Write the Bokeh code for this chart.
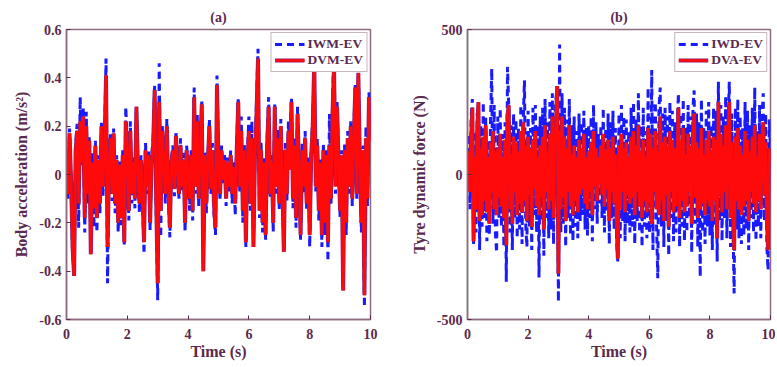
import numpy as np
from bokeh.plotting import figure
from bokeh.layouts import row
from bokeh.models import FixedTicker, Legend, LegendItem, Range1d
from bokeh.embed import file_html
from bokeh.resources import INLINE

# ---------------- data ----------------
# panel (a): body acceleration, sampled every 0.05 s
t_a = np.round(np.arange(201) * 0.05, 2)
dvm_ev = [
    0.05, -0.08, 0.17, -0.02, -0.30, -0.42, 0.10, 0.18, -0.12, 0.22,
    0.05, 0.24, -0.18, 0.20, -0.08, 0.14, -0.33, 0.05, -0.14, 0.12,
    -0.18, 0.06, -0.12, 0.20, -0.05, 0.10, 0.41, -0.30, 0.02, 0.15,
    -0.08, 0.17, -0.12, 0.06, -0.20, 0.04, -0.18, 0.08, -0.28, 0.22,
    0.10, -0.15, 0.18, -0.08, 0.05, -0.10, 0.28, 0.02, -0.12, 0.06,
    -0.08, -0.28, 0.10, -0.05, 0.08, -0.20, 0.05, 0.12, 0.35, -0.10,
    -0.45, 0.30, -0.15, 0.18, 0.05, -0.08, 0.20, -0.05, -0.22, 0.04,
    0.10, -0.06, 0.16, 0.02, -0.08, 0.12, -0.05, 0.06, -0.20, 0.10,
    0.02, -0.10, 0.08, -0.15, 0.32, -0.05, 0.22, -0.10, 0.10, 0.29,
    -0.40, 0.08, -0.12, 0.05, 0.20, -0.06, 0.10, -0.12, -0.22, 0.37,
    0.05, -0.08, 0.10, -0.02, 0.06, -0.10, 0.05, -0.05, 0.08, -0.08,
    0.03, -0.12, 0.10, 0.30, -0.05, 0.18, -0.15, 0.10, -0.28, 0.05,
    0.18, -0.12, 0.15, -0.30, 0.08, 0.25, 0.48, -0.15, 0.10, -0.20,
    0.05, -0.25, 0.12, 0.28, -0.08, 0.05, -0.20, 0.28, -0.05, 0.15,
    -0.12, 0.20, -0.05, -0.32, 0.10, -0.08, 0.18, 0.02, 0.30, -0.10,
    0.12, -0.18, 0.25, 0.02, -0.25, 0.10, -0.05, 0.15, -0.12, 0.05,
    -0.25, 0.08, 0.20, 0.47, -0.05, 0.12, -0.15, 0.05, -0.25, 0.10,
    -0.20, 0.08, -0.28, 0.12, -0.10, 0.25, 0.45, -0.05, 0.28, 0.05,
    -0.15, 0.08, -0.48, 0.10, -0.20, 0.15, -0.05, 0.20, -0.10, 0.15,
    0.36, -0.08, 0.42, 0.05, -0.20, 0.10, -0.50, 0.15, -0.10, 0.32,
    0.14,
]
iwm_ev = [
    0.07, -0.10, 0.19, -0.04, -0.33, -0.40, 0.12, 0.21, -0.22, 0.32,
    0.03, 0.28, -0.24, 0.26, -0.12, 0.16, -0.32, 0.09, -0.22, 0.14,
    -0.24, 0.08, -0.16, 0.22, -0.09, 0.12, 0.48, -0.45, 0.05, 0.17,
    -0.11, 0.19, -0.16, 0.08, -0.24, 0.06, -0.21, 0.10, -0.29, 0.28,
    0.12, -0.19, 0.22, -0.12, 0.07, -0.14, 0.28, 0.04, -0.16, 0.08,
    -0.10, -0.33, 0.13, -0.08, 0.10, -0.23, 0.07, 0.15, 0.37, -0.14,
    -0.52, 0.46, -0.26, 0.20, 0.07, -0.12, 0.23, -0.08, -0.26, 0.06,
    0.12, -0.09, 0.18, 0.04, -0.10, 0.15, -0.07, 0.09, -0.24, 0.12,
    0.04, -0.15, 0.10, -0.19, 0.36, -0.08, 0.25, -0.14, 0.12, 0.31,
    -0.39, 0.10, -0.16, 0.07, 0.23, -0.08, 0.13, -0.16, -0.25, 0.41,
    0.07, -0.11, 0.12, -0.04, 0.08, -0.13, 0.07, -0.07, 0.10, -0.12,
    0.05, -0.17, 0.13, 0.32, -0.08, 0.24, -0.20, 0.13, -0.30, 0.08,
    0.24, -0.15, 0.22, -0.29, 0.10, 0.30, 0.52, -0.18, 0.14, -0.24,
    0.07, -0.27, 0.15, 0.32, -0.10, 0.08, -0.24, 0.30, -0.08, 0.19,
    -0.15, 0.23, -0.07, -0.31, 0.13, -0.11, 0.22, 0.04, 0.32, -0.14,
    0.15, -0.22, 0.28, 0.04, -0.27, 0.13, -0.08, 0.18, -0.15, 0.07,
    -0.30, 0.10, 0.23, 0.45, -0.07, 0.15, -0.19, 0.07, -0.30, 0.13,
    -0.25, 0.10, -0.36, 0.25, -0.13, 0.27, 0.58, -0.08, 0.30, 0.08,
    -0.18, 0.10, -0.47, 0.13, -0.25, 0.18, -0.08, 0.22, -0.13, 0.18,
    0.38, -0.10, 0.44, 0.07, -0.24, 0.12, -0.55, 0.20, -0.13, 0.34,
    0.16,
]

# panel (b): tyre dynamic force, sampled every 0.04 s
t_b = np.round(np.arange(251) * 0.04, 2)
dva_ev = [
    10, 80, -60, 120, 230, -230, 60, -120, 150, 250, -160, 90, -140, 130, -90, 170, -130, 60, -170, 110, -60, 150, -120, 80, -140,
    90, -80, 140, -110, 60, -150, 120, -244, 200, 239, -120, 70, -170, 130, -60, 110, -140, 80, -100, 150, -130, 180, -90, 100, -160,
    130, -70, 90, -180, 120, -50, 150, -110, 60, -140, 100, -80, 130, -190, 170, -60, 80, -120, 140, -90, 200, -150, 110, 180, 305,
    -341, 150, -120, 200, -80, 130, -160, 90, -60, 170, -110, 70, -140, 100, -90, 60, -130, 120, -70, 90, -50, 140, -100, 60, -120,
    80, -60, 110, -140, 150, -40, 90, -90, 60, -30, 100, -70, 140, -110, 80, -50, 120, -160, 90, -60, 130, -100, 70, -150, -290,
    100, -120, 140, -60, 90, -130, 110, -70, 60, -100, 130, -80, 150, -140, 100, -60, 170, -110, 80, -150, 120, -90, 60, -130, 160,
    -100, 140, -170, 90, -60, 150, -120, 80, -140, 200, -90, 110, -160, 130, -70, 100, -180, 150, -60, 120, -130, 90, -110, 60, 230,
    -150, 120, -90, 160, -130, 70, -110, 140, -60, 100, -170, 130, 210, -80, 110, -150, 90, -120, 160, -100, 70, -140, 120, -90, 150,
    -110, 80, -160, 130, -90, 120, -220, 250, -70, 140, -130, 100, -60, 170, -120, 90, 250, -150, 110, -80, -260, 130, -90, 160, -120,
    100, -140, 70, -110, 150, -90, 120, -160, 80, -60, 130, -100, 170, -130, 60, -90, 140, -120, 100, 180, -70, 110, -150, -260, 90,
    40,
]
iwd_ev = [
    -60, 140, -120, 200, 260, -240, 150, -200, 210, 230, -260, 170, -180, 250, -150, 200, -230, 120, -210, 180, 365, -170, 240, -200, -270,
    200, -150, 230, -180, 140, -250, 180, -370, 371, 240, -200, 170, -260, 210, -150, 190, -220, 160, -190, 240, -240, 190, 325, -170, -250,
    220, -180, 160, -260, 230, -140, 240, -200, 170, -355, 200, -160, 230, -280, 260, -150, 180, -220, 250, -190, 280, -240, 200, 260, 300,
    -439, 448, -200, 280, -170, 230, -250, 190, -150, 260, -210, 170, -230, 200, -180, 150, -220, 210, -160, 180, -140, 220, -190, 160, -210,
    170, -150, 200, -230, 240, -120, 180, -170, 140, -100, 170, -150, 230, -200, 160, -130, 210, -240, 180, -150, 220, -190, 160, -230, -300,
    210, -220, 240, -160, 200, -230, 190, -170, 150, -200, 230, -180, 250, -240, 190, -160, 280, -200, 170, -250, 230, -180, 150, -220, 300,
    -200, -150, 360, -260, 200, 250, -180, -358, 230, 300, -180, 210, -250, 230, -160, 200, -280, 250, -150, 220, -230, 180, -200, 150, 280,
    -250, 210, -180, 260, -230, 160, -200, 240, -150, 200, -270, 230, 290, -170, 210, -250, 180, -353, 260, -200, 160, -240, 220, -180, 250,
    -210, 170, -260, 230, -180, 220, -300, 320, -160, 240, -230, 200, -150, 270, -220, 180, 320, -250, 210, -170, -410, 230, -190, 260, -220,
    200, -240, 160, -210, 250, -190, 220, -260, 170, -150, 230, -200, 300, -230, 150, -180, 240, -220, 200, 280, -160, 210, -250, -330, 190,
    80,
]

x_ticks = [0, 2, 4, 6, 8, 10]
ya_ticks = [-0.6, -0.4, -0.2, 0, 0.2, 0.4, 0.6]
ya_labels = ["-0.6", "-0.4", "-0.2", "0", "0.2", "0.4", "0.6"]
yb_ticks = [-500, 0, 500]
yb_labels = ["-500", "0", "500"]

# ---------------- style ----------------
FONT = "Liberation Serif"
TXT = "#5b2a4e"
FRAME = "#8c6b7e"
BLUE = "#1a1aff"
RED = "#ff0a0a"
PURPLE = "#8a1f6e"


def style_axis(ax, ticks, labels=None):
    ax.ticker = FixedTicker(ticks=ticks)
    if labels is not None:
        ax.major_label_overrides = {tk: lb for tk, lb in zip(ticks, labels)}
    ax.axis_line_color = FRAME
    ax.axis_line_width = 1.5
    ax.major_tick_line_color = TXT
    ax.major_tick_in = 4
    ax.major_tick_out = 0
    ax.minor_tick_line_color = None
    ax.major_label_text_font = FONT
    ax.major_label_text_font_style = "bold"
    ax.major_label_text_color = TXT
    ax.major_label_text_font_size = "14px"
    ax.axis_label_text_font = FONT
    ax.axis_label_text_font_style = "bold"
    ax.axis_label_text_color = TXT
    ax.axis_label_text_font_size = "16px"
    ax.axis_label_standoff = 6


def make_panel(title, t, s_dash, s_solid, lab_dash, lab_solid, yrange, yticks, ylabels,
               ylabel, width, left, right):
    p = figure(width=width, height=365, output_backend="svg", toolbar_location=None,
               x_range=Range1d(0, 10), y_range=Range1d(*yrange),
               min_border_left=left, min_border_right=right,
               min_border_top=29, min_border_bottom=46,
               title=title)
    p.title.text_font = FONT
    p.title.text_font_style = "bold"
    p.title.text_font_size = "14px"
    p.title.text_color = TXT
    p.title.align = "center"
    p.title.standoff = 10
    p.grid.visible = False
    p.outline_line_color = FRAME
    p.outline_line_width = 1.5
    p.background_fill_color = "white"
    p.border_fill_color = "white"

    style_axis(p.xaxis[0], x_ticks)
    style_axis(p.yaxis[0], yticks, ylabels)
    p.xaxis[0].major_label_standoff = 9
    p.xaxis[0].axis_label_standoff = 1
    p.yaxis[0].major_label_standoff = 5
    p.xaxis[0].axis_label = "Time (s)"
    p.yaxis[0].axis_label = ylabel

    r_dash = p.line(t, s_dash, line_color=BLUE, line_width=3, line_dash="7 5")
    r_edge = p.line(t, s_solid, line_color=PURPLE, line_width=4)
    r_solid = p.line(t, s_solid, line_color=RED, line_width=2.7)

    leg = Legend(items=[LegendItem(label=lab_dash, renderers=[r_dash]),
                        LegendItem(label=lab_solid, renderers=[r_edge, r_solid])],
                 location="top_right")
    leg.margin = 3
    leg.padding = 3
    leg.spacing = 0
    leg.glyph_width = 30
    leg.glyph_height = 14
    leg.label_height = 14
    leg.label_standoff = 3
    leg.label_text_font = FONT
    leg.label_text_font_style = "bold"
    leg.label_text_font_size = "13.5px"
    leg.label_text_color = TXT
    leg.border_line_color = FRAME
    leg.border_line_width = 1.5
    leg.background_fill_alpha = 1
    p.add_layout(leg, "center")
    return p


pa = make_panel("(a)", t_a, iwm_ev, dvm_ev, "IWM-EV", "DVM-EV", (-0.6, 0.6),
                ya_ticks, ya_labels, "Body acceleration (m/s\u00b2)", 398, 66, 28)
pb = make_panel("(b)", t_b, iwd_ev, dva_ev, "IWD-EV", "DVA-EV", (-500, 500),
                yb_ticks, yb_labels, "Tyre dynamic force (N)", 377, 69, 5)

layout = row(pa, pb)
open("out.html", "w").write(file_html(layout, INLINE))
